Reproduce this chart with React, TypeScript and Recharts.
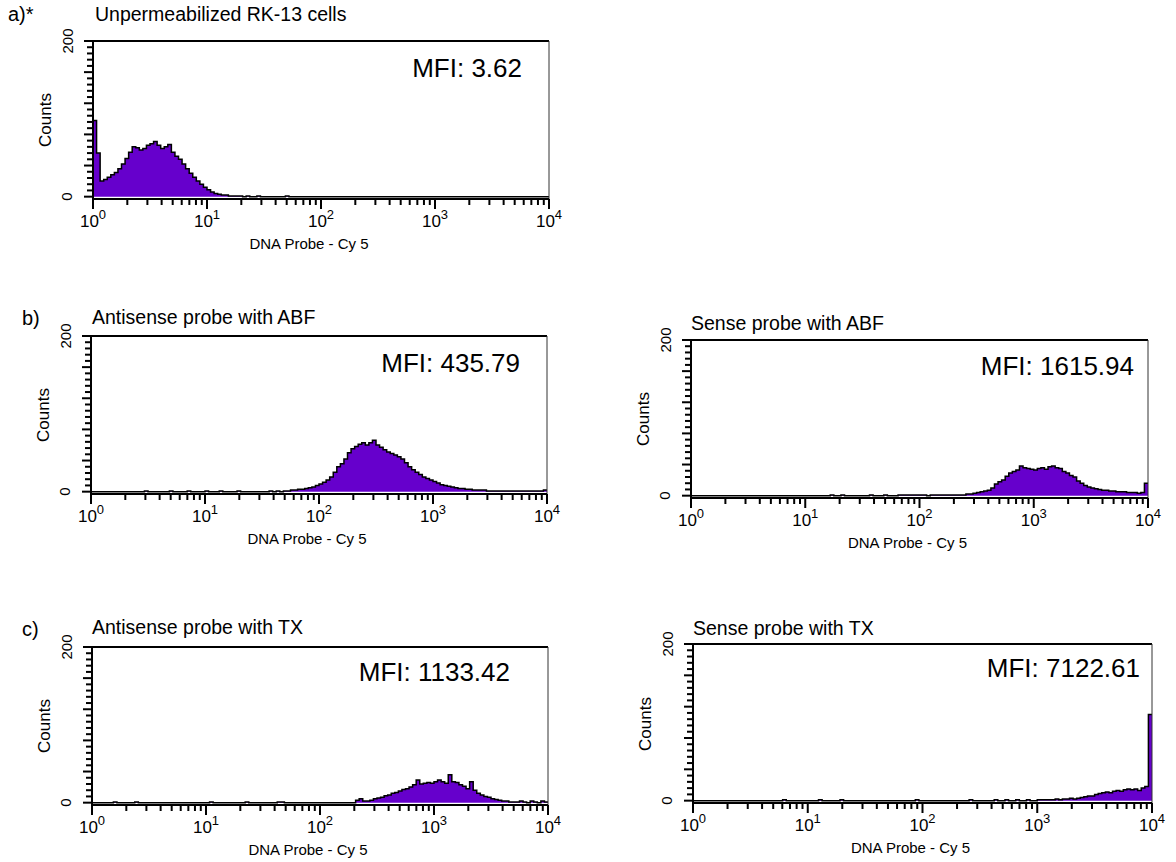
import { AreaChart, Area, XAxis, YAxis, ReferenceLine } from "recharts";

const FONT = '"Liberation Sans", Arial, Helvetica, sans-serif';
const FILL = "#6600cc";

// histogram channels: 32 per decade, 10^0 .. 10^4
const CHANNELS = 128;
const PER_DECADE = 32;
const DECADES = [0, 1, 2, 3, 4];
const Y_LABELS = [0, 200];
const Y_MAX = 200;

const unpermRK13 = [
  98, 56, 20, 22, 25, 28, 31, 36, 42, 49, 57, 64, 63, 60, 62, 66,
  68, 71, 66, 62, 64, 67, 57, 52, 48, 42, 36, 30, 25, 20, 16, 12,
  9, 6, 4, 3, 2, 2, 1, 1, 1, 1, 0, 1, 0, 0, 1, 0,
  0, 0, 0, 0, 0, 0, 1, 0, 0, 0, 0, 0, 0, 0, 0, 0,
  0, 0, 0, 0, 0, 0, 0, 0, 0, 0, 0, 0, 0, 0, 0, 0,
  0, 0, 0, 0, 0, 0, 0, 0, 0, 0, 0, 0, 0, 0, 0, 0,
  0, 0, 0, 0, 0, 0, 0, 0, 0, 0, 0, 0, 0, 0, 0, 0,
  0, 0, 0, 0, 0, 0, 0, 0, 0, 0, 0, 0, 0, 0, 0, 0,
];

const antisenseABF = [
  0, 0, 0, 0, 0, 0, 0, 0, 0, 0, 0, 0, 0, 0, 0, 1,
  0, 0, 0, 0, 0, 0, 1, 0, 0, 0, 0, 1, 0, 0, 0, 0,
  1, 0, 0, 0, 1, 0, 0, 0, 0, 1, 0, 0, 0, 0, 0, 0,
  0, 0, 1, 0, 1, 0, 1, 1, 2, 2, 3, 3, 4, 5, 6, 8,
  10, 12, 15, 19, 25, 32, 36, 42, 50, 55, 58, 61, 63, 60, 63, 66,
  60, 57, 54, 51, 49, 47, 45, 42, 37, 32, 28, 25, 22, 19, 17, 15,
  13, 11, 9, 8, 7, 6, 5, 4, 4, 3, 3, 2, 2, 2, 2, 1,
  1, 1, 1, 1, 1, 1, 1, 1, 1, 1, 1, 1, 1, 1, 1, 2,
];

const senseABF = [
  0, 0, 0, 0, 0, 0, 0, 0, 0, 0, 0, 0, 0, 0, 0, 0,
  0, 0, 0, 0, 0, 0, 0, 0, 0, 0, 0, 0, 0, 0, 0, 0,
  0, 0, 0, 0, 0, 0, 0, 1, 0, 0, 1, 0, 0, 0, 0, 0,
  0, 0, 1, 0, 0, 0, 1, 0, 0, 0, 1, 1, 1, 1, 1, 1,
  1, 1, 0, 1, 1, 1, 1, 1, 1, 1, 1, 1, 1, 2, 2, 3,
  4, 5, 6, 7, 10, 15, 18, 20, 25, 29, 31, 33, 38, 36, 35, 34,
  33, 35, 36, 34, 37, 38, 36, 35, 31, 29, 26, 24, 19, 16, 13, 11,
  10, 9, 8, 7, 7, 6, 6, 5, 5, 5, 4, 4, 4, 3, 4, 16,
];

const antisenseTX = [
  0, 0, 0, 0, 0, 0, 1, 0, 0, 0, 0, 0, 1, 0, 0, 0,
  0, 0, 0, 0, 0, 0, 0, 0, 0, 0, 0, 0, 0, 0, 0, 0,
  0, 1, 0, 0, 0, 0, 0, 0, 0, 0, 0, 1, 0, 0, 0, 0,
  0, 0, 0, 0, 1, 1, 0, 0, 0, 0, 0, 0, 0, 0, 0, 0,
  0, 0, 0, 0, 0, 0, 0, 0, 0, 0, 3, 5, 2, 2, 3, 5,
  6, 7, 9, 10, 12, 13, 15, 17, 18, 20, 23, 29, 24, 25, 26, 25,
  27, 29, 27, 25, 36, 27, 26, 23, 21, 18, 27, 16, 12, 10, 8, 7,
  5, 4, 3, 2, 2, 1, 1, 1, 2, 1, 0, 2, 1, 0, 2, 1,
];

const senseTX = [
  0, 0, 0, 0, 0, 0, 0, 0, 0, 0, 0, 0, 0, 0, 0, 0,
  0, 0, 0, 0, 0, 0, 0, 0, 0, 1, 0, 0, 0, 0, 0, 0,
  0, 0, 0, 1, 0, 0, 0, 0, 0, 1, 0, 0, 0, 0, 0, 0,
  0, 0, 0, 0, 0, 0, 0, 0, 0, 0, 0, 0, 0, 0, 1, 0,
  0, 0, 0, 0, 0, 0, 0, 0, 0, 0, 0, 0, 0, 1, 0, 0,
  0, 0, 0, 0, 1, 0, 0, 1, 0, 0, 1, 0, 0, 1, 0, 0,
  1, 1, 1, 1, 1, 2, 1, 2, 2, 3, 2, 3, 4, 5, 6, 6,
  8, 9, 10, 11, 10, 12, 13, 12, 14, 15, 14, 15, 13, 16, 18, 110,
];

const Y_AXIS_W = 94;
const X_AXIS_H = 40;
const TOP_PAD = 24;

// log ticks: decade + 2..9 minor ticks
const xTicks = DECADES.flatMap((d) =>
  d === DECADES.length - 1
    ? [d * PER_DECADE]
    : [d * PER_DECADE, ...[2, 3, 4, 5, 6, 7, 8, 9].map((k) => d * PER_DECADE + PER_DECADE * Math.log10(k))]
);
const yTicks = Array.from({ length: Y_MAX / 8 + 1 }, (_, i) => i * 8);

function toRows(counts: number[]) {
  const rows = counts.map((count, ch) => ({ ch, count }));
  rows.push({ ch: counts.length, count: counts[counts.length - 1] });
  return rows;
}

function XTick(props: any) {
  const { x, y, payload } = props;
  const v = payload.value as number;
  const dec = v / PER_DECADE;
  const isDecade = Math.abs(dec - Math.round(dec)) < 1e-6;
  return (
    <g>
      <line x1={x} y1={y} x2={x} y2={y + (isDecade ? 10 : 6)} stroke="#000" strokeWidth={2} />
      {isDecade && (
        <text x={x} y={y + 28} textAnchor="middle" fontFamily={FONT} fontSize={17} fill="#000">
          10<tspan dy={-8} fontSize={13}>{Math.round(dec)}</tspan>
        </text>
      )}
    </g>
  );
}

function YTick(props: any) {
  const { x, y, payload } = props;
  const v = payload.value as number;
  const major = v % 40 === 0;
  const lx = x - 26;
  return (
    <g>
      <line x1={x - (major ? 9 : 6)} y1={y} x2={x} y2={y} stroke="#000" strokeWidth={2} />
      {Y_LABELS.includes(v) && (
        <text
          x={lx}
          y={y}
          transform={`rotate(-90 ${lx} ${y})`}
          textAnchor="middle"
          dominantBaseline="central"
          fontFamily={FONT}
          fontSize={15}
          fill="#000"
        >
          {v}
        </text>
      )}
    </g>
  );
}

interface Box { left: number; right: number; top: number; bottom: number }

function Histogram({ box, counts, title, mfi, mfiRight, mfiY, titleX, titleY }: {
  box: Box; counts: number[]; title: string; mfi: string;
  mfiRight: number; mfiY: number; titleX: number; titleY: number;
}) {
  const { left, right, top, bottom } = box;
  const plotW = right - left;
  const plotH = bottom - top;
  return (
    <>
      <div style={{ position: "absolute", left: left - Y_AXIS_W, top: top - TOP_PAD }}>
        <AreaChart
          width={Y_AXIS_W + plotW + 20}
          height={TOP_PAD + plotH + X_AXIS_H}
          data={toRows(counts)}
          margin={{ top: TOP_PAD, right: 20, left: 0, bottom: 0 }}
        >
          <XAxis
            dataKey="ch"
            type="number"
            domain={[0, CHANNELS]}
            ticks={xTicks}
            interval={0}
            tick={XTick}
            tickLine={false}
            tickSize={0}
            tickMargin={0}
            axisLine={{ stroke: "#000", strokeWidth: 2 }}
            height={X_AXIS_H}
            allowDataOverflow
          />
          <YAxis
            type="number"
            domain={[-3, Y_MAX]}
            ticks={yTicks}
            interval={0}
            tick={YTick}
            tickLine={false}
            tickSize={0}
            tickMargin={0}
            axisLine={{ stroke: "#000", strokeWidth: 2 }}
            width={Y_AXIS_W}
            allowDataOverflow
          />
          <ReferenceLine y={Y_MAX} stroke="#000" strokeWidth={2} />
          <ReferenceLine x={CHANNELS} stroke="#333" strokeWidth={1} />
          <Area
            type="stepAfter"
            dataKey="count"
            stroke="#000"
            strokeWidth={1.5}
            fill={FILL}
            fillOpacity={1}
            baseValue={0}
            dot={false}
            activeDot={false}
            isAnimationActive={false}
          />
        </AreaChart>
      </div>
      <div style={{ position: "absolute", left: titleX, top: titleY - 12, fontSize: 19.5, lineHeight: "24px", whiteSpace: "nowrap" }}>
        {title}
      </div>
      <div style={{ position: "absolute", right: 1176 - mfiRight, top: mfiY - 14, fontSize: 26, lineHeight: "28px", whiteSpace: "nowrap" }}>
        {mfi}
      </div>
      <div
        style={{
          position: "absolute",
          left: left - 47,
          top: (top + bottom) / 2,
          transform: "translate(-50%, -50%) rotate(-90deg)",
          fontSize: 17,
          whiteSpace: "nowrap",
        }}
      >
        Counts
      </div>
      <div
        style={{
          position: "absolute",
          left: (left + right) / 2 - 12,
          top: bottom + 44,
          transform: "translate(-50%, -50%)",
          fontSize: 15,
          whiteSpace: "nowrap",
        }}
      >
        DNA Probe - Cy 5
      </div>
    </>
  );
}

export default function App() {
  return (
    <div style={{ position: "relative", width: 1176, height: 862, background: "#fff", fontFamily: FONT, color: "#000", overflow: "hidden" }}>
      <style>{"body{margin:0}"}</style>
      <div style={{ position: "absolute", left: 8, top: 2, fontSize: 20, lineHeight: "24px" }}>a)*</div>
      <div style={{ position: "absolute", left: 22, top: 306, fontSize: 20, lineHeight: "24px" }}>b)</div>
      <div style={{ position: "absolute", left: 22, top: 617, fontSize: 20, lineHeight: "24px" }}>c)</div>

      <Histogram box={{ left: 93, right: 549, top: 41, bottom: 199 }} counts={unpermRK13}
        title="Unpermeabilized RK-13 cells" titleX={95} titleY={14} mfi="MFI: 3.62" mfiRight={522} mfiY={68} />
      <Histogram box={{ left: 91, right: 547, top: 336, bottom: 494 }} counts={antisenseABF}
        title="Antisense probe with ABF" titleX={92} titleY={317} mfi="MFI: 435.79" mfiRight={520} mfiY={363} />
      <Histogram box={{ left: 691, right: 1148, top: 340, bottom: 498 }} counts={senseABF}
        title="Sense probe with ABF" titleX={691} titleY={323} mfi="MFI: 1615.94" mfiRight={1134} mfiY={366} />
      <Histogram box={{ left: 92, right: 548, top: 647, bottom: 805 }} counts={antisenseTX}
        title="Antisense probe with TX" titleX={92} titleY={627} mfi="MFI: 1133.42" mfiRight={510} mfiY={672} />
      <Histogram box={{ left: 693, right: 1152, top: 644, bottom: 803 }} counts={senseTX}
        title="Sense probe with TX" titleX={693} titleY={628} mfi="MFI: 7122.61" mfiRight={1140} mfiY={668} />
    </div>
  );
}
